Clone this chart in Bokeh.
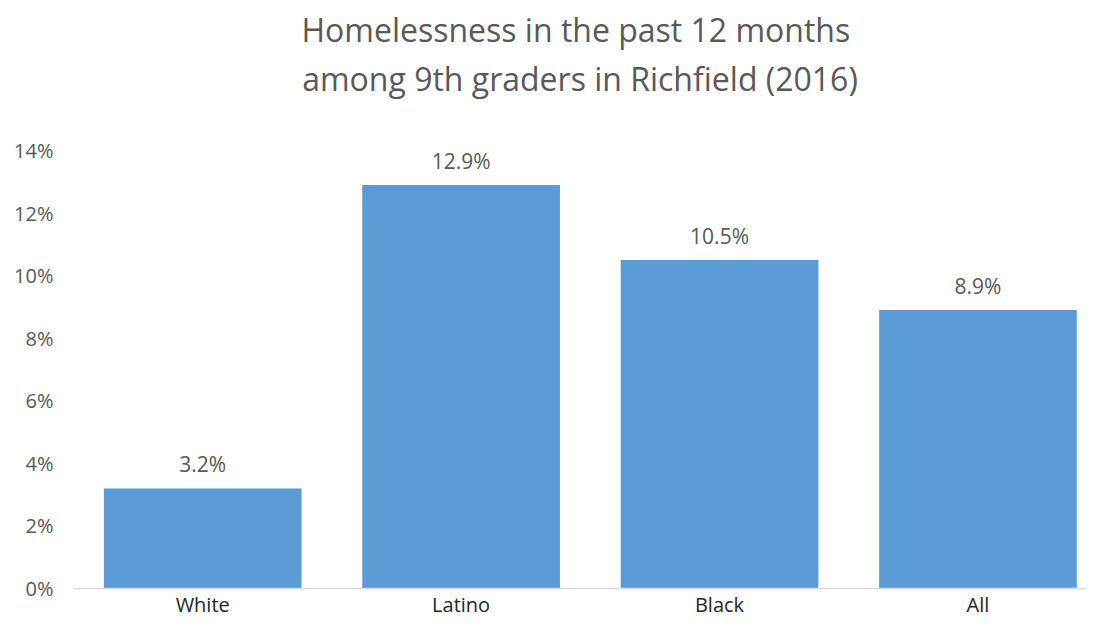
from bokeh.plotting import figure
from bokeh.models import ColumnDataSource, Range1d, FixedTicker, Title, LabelSet
from bokeh.core.properties import value
from bokeh.embed import file_html
from bokeh.resources import INLINE

categories = ["White", "Latino", "Black", "All"]
values = [3.2, 12.9, 10.5, 8.9]
y_ticks = [0, 2, 4, 6, 8, 10, 12, 14]
title_lines = ["Homelessness  in the past 12 months", "among 9th graders in Richfield (2016)"]

FONT = "Open Sans"

idx = list(range(len(categories)))
src = ColumnDataSource(dict(
    x=idx, v=values, lab=[f"{v:.1f}%" for v in values]
))

p = figure(width=1086, height=620, output_backend="svg", toolbar_location=None,
           x_range=Range1d(-0.5, 3.42), y_range=Range1d(0, 14),
           min_border_left=73, min_border_right=0, min_border_bottom=30, min_border_top=150)
p.outline_line_color = None
p.grid.visible = False
p.background_fill_color = "white"
p.border_fill_color = "white"

p.vbar(x="x", top="v", width=0.765, source=src, color="#5B9BD5", line_color=None)

labels = LabelSet(x="x", y="v", text="lab", source=src, text_align="center",
                  text_baseline="bottom", y_offset=10, text_font=value(FONT),
                  text_font_size="21px", text_color="#595959")
p.add_layout(labels)

xa = p.xaxis[0]
xa.ticker = FixedTicker(ticks=idx)
xa.major_label_overrides = {i: c for i, c in zip(idx, categories)}
xa.axis_line_color = "#D9D9D9"
xa.axis_line_width = 1.5
xa.major_tick_line_color = None
xa.minor_tick_line_color = None
xa.major_tick_out = 0
xa.major_tick_in = 0
xa.major_label_text_font = FONT
xa.major_label_text_font_size = "20px"
xa.major_label_text_color = "#262626"
xa.major_label_standoff = 2

ya = p.yaxis[0]
ya.ticker = FixedTicker(ticks=y_ticks)
ya.major_label_overrides = {t: f"{t}%" for t in y_ticks}
ya.axis_line_color = None
ya.major_tick_line_color = None
ya.minor_tick_line_color = None
ya.major_tick_out = 0
ya.major_tick_in = 0
ya.major_label_text_font = FONT
ya.major_label_text_font_size = "20px"
ya.major_label_text_color = "#595959"
ya.major_label_standoff = 20

# spacer between the plot frame and the two title lines
spacer = Title(text=" ", text_font=FONT, text_font_size="20px", standoff=20)
t2 = Title(text=title_lines[1], align="center", text_font=FONT, text_font_size="32px",
           text_font_style="normal", text_color="#595959", standoff=4)
t1 = Title(text=title_lines[0], align="center", text_font=FONT, text_font_size="32px",
           text_font_style="normal", text_color="#595959", standoff=4)
p.add_layout(spacer, "above")
p.add_layout(t2, "above")
p.add_layout(t1, "above")

open("out.html", "w").write(file_html(p, INLINE))
